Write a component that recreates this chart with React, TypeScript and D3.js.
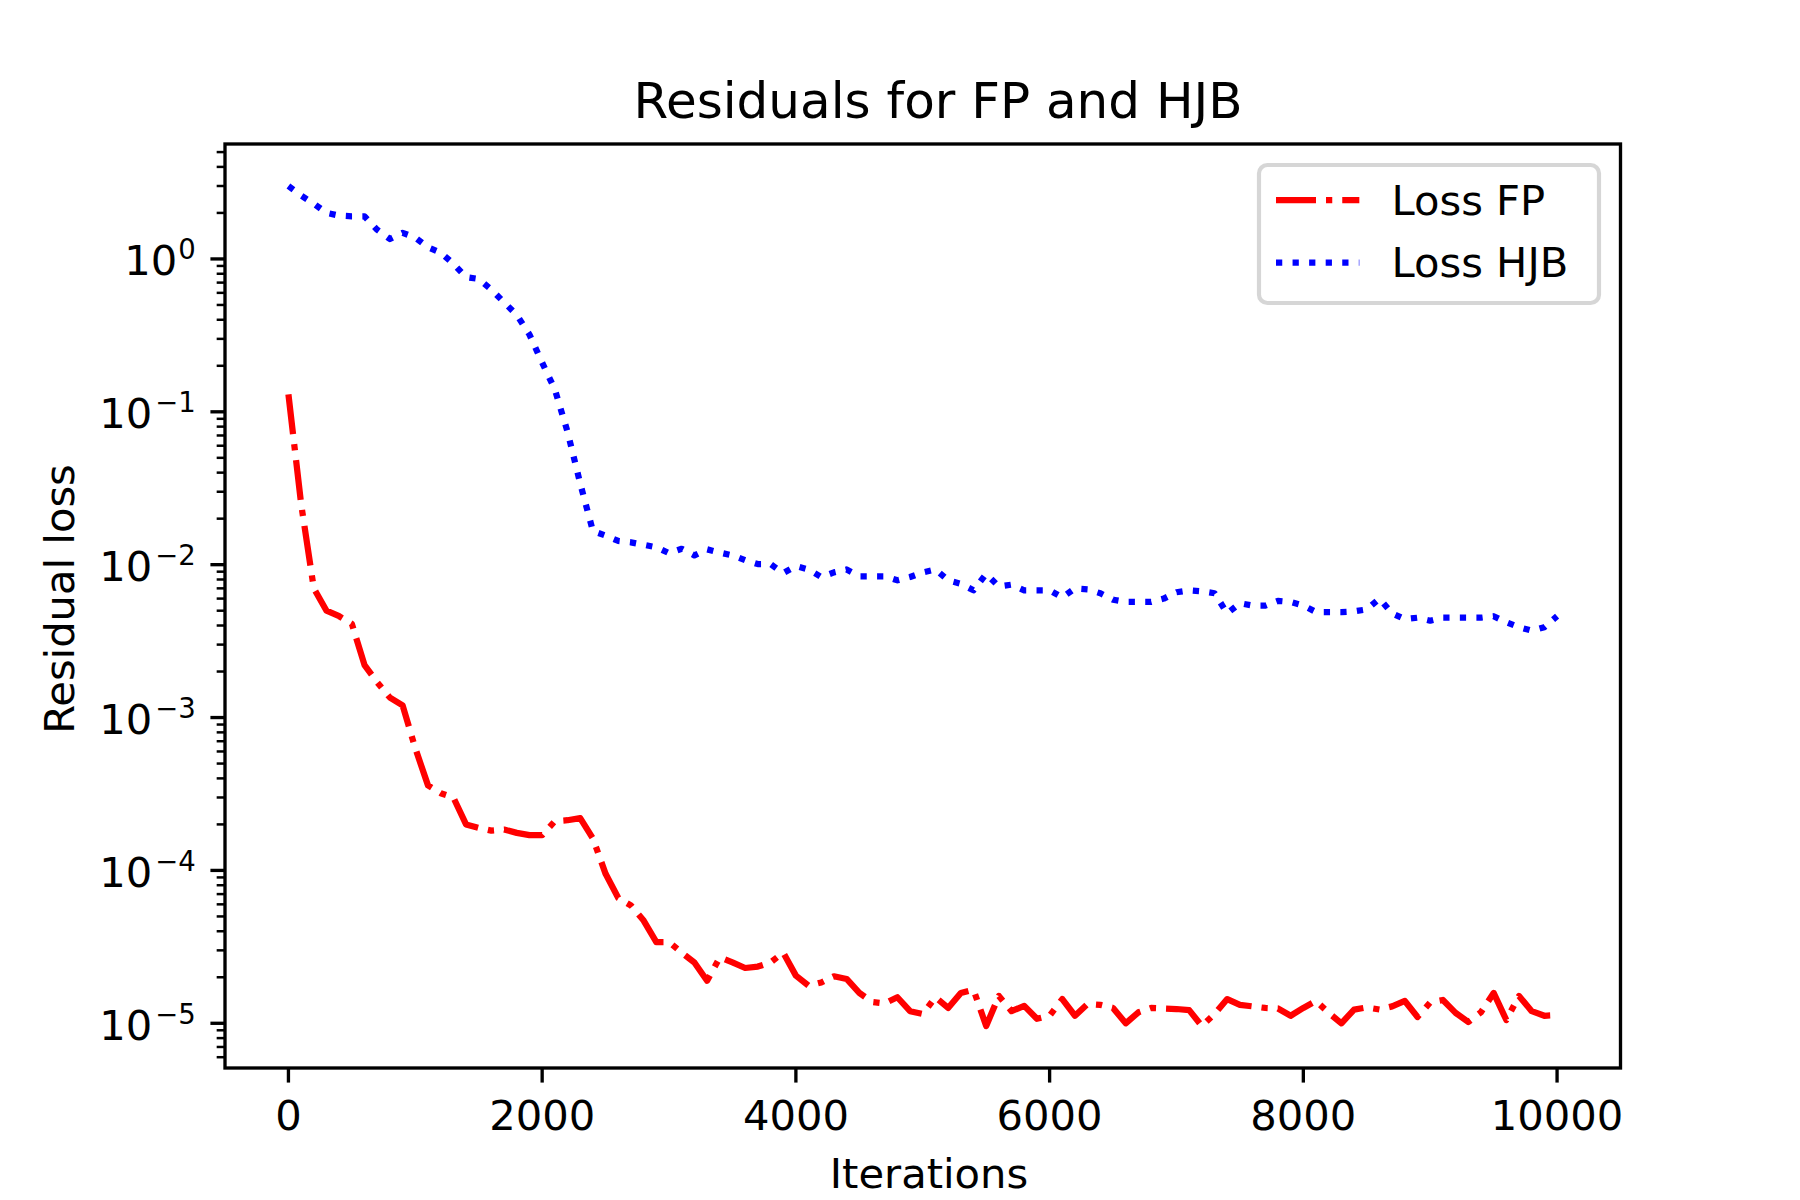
import React from "react";
import * as d3 from "d3";

const ITERATIONS = [
  0, 100, 200, 300, 400, 500, 600, 700, 800, 900,
  1000, 1100, 1200, 1300, 1400, 1500, 1600, 1700, 1800, 1900,
  2000, 2100, 2200, 2300, 2400, 2500, 2600, 2700, 2800, 2900,
  3000, 3100, 3200, 3300, 3400, 3500, 3600, 3700, 3800, 3900,
  4000, 4100, 4200, 4300, 4400, 4500, 4600, 4700, 4800, 4900,
  5000, 5100, 5200, 5300, 5400, 5500, 5600, 5700, 5800, 5900,
  6000, 6100, 6200, 6300, 6400, 6500, 6600, 6700, 6800, 6900,
  7000, 7100, 7200, 7300, 7400, 7500, 7600, 7700, 7800, 7900,
  8000, 8100, 8200, 8300, 8400, 8500, 8600, 8700, 8800, 8900,
  9000, 9100, 9200, 9300, 9400, 9500, 9600, 9700, 9800, 9900,
  10000,
];

const LOSS_FP = [
  0.13, 0.025, 0.007, 0.005, 0.0046, 0.0041, 0.0022, 0.0017, 0.00135, 0.0012,
  0.00063, 0.00036, 0.00032, 0.0003, 0.0002, 0.00019, 0.000182, 0.000185, 0.000176, 0.00017,
  0.00017, 0.00021, 0.000213, 0.00022, 0.000162, 9.5e-5, 6.6e-5, 5.9e-5, 4.7e-5, 3.4e-5,
  3.4e-5, 2.9e-5, 2.5e-5, 1.9e-5, 2.7e-5, 2.5e-5, 2.3e-5, 2.35e-5, 2.5e-5, 2.9e-5,
  2.05e-5, 1.76e-5, 1.85e-5, 2.03e-5, 1.95e-5, 1.58e-5, 1.38e-5, 1.35e-5, 1.48e-5, 1.2e-5,
  1.15e-5, 1.48e-5, 1.26e-5, 1.58e-5, 1.66e-5, 9.6e-6, 1.51e-5, 1.2e-5, 1.3e-5, 1.07e-5,
  1.12e-5, 1.44e-5, 1.12e-5, 1.34e-5, 1.32e-5, 1.26e-5, 1.0e-5, 1.18e-5, 1.26e-5, 1.25e-5,
  1.24e-5, 1.22e-5, 9.6e-6, 1.15e-5, 1.44e-5, 1.32e-5, 1.29e-5, 1.26e-5, 1.25e-5, 1.12e-5,
  1.26e-5, 1.4e-5, 1.17e-5, 1.0e-5, 1.23e-5, 1.27e-5, 1.23e-5, 1.29e-5, 1.4e-5, 1.1e-5,
  1.37e-5, 1.42e-5, 1.17e-5, 1.02e-5, 1.18e-5, 1.58e-5, 1.05e-5, 1.51e-5, 1.2e-5, 1.12e-5,
  1.13e-5,
];

const LOSS_HJB = [
  3.0, 2.6, 2.3, 2.0, 1.92, 1.9, 1.9, 1.55, 1.35, 1.48,
  1.38, 1.19, 1.1, 0.93, 0.76, 0.74, 0.63, 0.52, 0.43, 0.32,
  0.21, 0.14, 0.074, 0.034, 0.0166, 0.0155, 0.0143, 0.014, 0.0135, 0.013,
  0.0119, 0.0127, 0.0115, 0.0126, 0.012, 0.0115, 0.0107, 0.0101, 0.0101, 0.0088,
  0.0098, 0.0093, 0.0083, 0.0089, 0.0093, 0.0084, 0.0084, 0.0084, 0.0079, 0.0083,
  0.0089, 0.0093, 0.0079, 0.0075, 0.0068, 0.0087, 0.0072, 0.0074, 0.0068, 0.0068,
  0.0068, 0.0061, 0.007, 0.0069, 0.0065, 0.0059, 0.0057, 0.0057, 0.0057, 0.006,
  0.0066, 0.0068, 0.0067, 0.0065, 0.0048, 0.0056, 0.0054, 0.0054, 0.0058, 0.0057,
  0.0054, 0.0049, 0.0049, 0.0049, 0.00495, 0.0051, 0.006, 0.0048, 0.0044, 0.0045,
  0.0043, 0.0045, 0.0045, 0.0045, 0.0045, 0.0046, 0.0042, 0.0039, 0.0037, 0.0039,
  0.0046,
];

const X_TICKS = [0, 2000, 4000, 6000, 8000, 10000];
const Y_EXPONENTS = [0, -1, -2, -3, -4, -5];
const TITLE = "Residuals for FP and HJB";
const X_LABEL = "Iterations";
const Y_LABEL = "Residual loss";
const SERIES_NAMES = ["Loss FP", "Loss HJB"];

const W = 1800;
const H = 1200;
const AX = { left: 225, right: 1620.5, top: 144, bottom: 1068 };
const PT = 300 / 72;
const FONT = "DejaVu Sans";

export default function App() {
  const xMin = d3.min(ITERATIONS)!;
  const xMax = d3.max(ITERATIONS)!;
  const xPad = (xMax - xMin) * 0.05;
  const x = d3.scaleLinear().domain([xMin - xPad, xMax + xPad]).range([AX.left, AX.right]);

  const allVals = [...LOSS_FP, ...LOSS_HJB];
  const lmin = Math.log10(d3.min(allVals)!);
  const lmax = Math.log10(d3.max(allVals)!);
  const lpad = (lmax - lmin) * 0.05;
  const y = d3
    .scaleLog()
    .domain([Math.pow(10, lmin - lpad), Math.pow(10, lmax + lpad)])
    .range([AX.bottom, AX.top]);

  const line = d3
    .line<number>()
    .x((_, i) => x(ITERATIONS[i]))
    .y((d) => y(d));

  const [yLo, yHi] = y.domain();
  const minorTicks: number[] = [];
  for (let e = Math.floor(Math.log10(yLo)); e <= Math.ceil(Math.log10(yHi)); e++) {
    for (let m = 2; m <= 9; m++) {
      const v = m * Math.pow(10, e);
      if (v >= yLo && v <= yHi) minorTicks.push(v);
    }
  }

  const lw = 1.5 * PT;
  const dashDot = [6.4, 1.6, 1.0, 1.6].map((v) => v * 1.5 * PT).join(" ");
  const dotted = [1, 1.65].map((v) => v * 1.5 * PT).join(" ");
  const tickFs = 10 * PT;
  const majorLen = 3.5 * PT;
  const minorLen = 2 * PT;
  const majorW = 0.8 * PT;
  const minorW = 0.6 * PT;
  const labelRight = AX.left - majorLen - 3.5 * PT;

  const legX = 1259;
  const legY = 165;
  const legW = 340;
  const legH = 138;
  const rows = [
    { name: SERIES_NAMES[0], color: "#ff0000", dash: dashDot, ly: 200, ty: 215 },
    { name: SERIES_NAMES[1], color: "#0000ff", dash: dotted, ly: 262.7, ty: 277 },
  ];

  return (
    <div>
      <style>{"body{margin:0}"}</style>
      <svg width={W} height={H} style={{ display: "block", background: "#fff" }} fontFamily={FONT}>
        <rect x={0} y={0} width={W} height={H} fill="#fff" />
        <defs>
          <clipPath id="axclip">
            <rect x={AX.left} y={AX.top} width={AX.right - AX.left} height={AX.bottom - AX.top} />
          </clipPath>
        </defs>
        <g clipPath="url(#axclip)">
          <path
            d={line(LOSS_FP) || ""}
            fill="none"
            stroke="#ff0000"
            strokeWidth={lw}
            strokeDasharray={dashDot}
            strokeLinecap="butt"
            strokeLinejoin="round"
          />
          <path
            d={line(LOSS_HJB) || ""}
            fill="none"
            stroke="#0000ff"
            strokeWidth={lw}
            strokeDasharray={dotted}
            strokeLinecap="butt"
            strokeLinejoin="round"
          />
        </g>
        {/* spines */}
        <rect
          x={AX.left}
          y={AX.top}
          width={AX.right - AX.left}
          height={AX.bottom - AX.top}
          fill="none"
          stroke="#000"
          strokeWidth={majorW}
          strokeLinejoin="miter"
        />
        {/* x ticks */}
        {X_TICKS.map((t) => (
          <g key={"xt" + t}>
            <line x1={x(t)} x2={x(t)} y1={AX.bottom} y2={AX.bottom + majorLen} stroke="#000" strokeWidth={majorW} />
            <text x={x(t)} y={1130} fontSize={tickFs} textAnchor="middle" fill="#000">
              {String(t)}
            </text>
          </g>
        ))}
        {/* y minor ticks */}
        {minorTicks.map((v, i) => (
          <line
            key={"ym" + i}
            x1={AX.left - minorLen}
            x2={AX.left}
            y1={y(v)}
            y2={y(v)}
            stroke="#000"
            strokeWidth={minorW}
          />
        ))}
        {/* y major ticks */}
        {Y_EXPONENTS.map((e) => {
          const yy = y(Math.pow(10, e));
          const sup = e < 0 ? "\u2212" + String(-e) : String(e);
          return (
            <g key={"ye" + e}>
              <line x1={AX.left - majorLen} x2={AX.left} y1={yy} y2={yy} stroke="#000" strokeWidth={majorW} />
              <text x={labelRight} y={yy + 16.5} fontSize={tickFs} textAnchor="end" fill="#000">
                <tspan>10</tspan>
                <tspan dx={e < 0 ? 3 : 1} dy={-16} fontSize={27.5}>
                  {sup}
                </tspan>
              </text>
            </g>
          );
        })}
        {/* title and labels */}
        <text x={938} y={118} fontSize={12 * PT} textAnchor="middle" fill="#000">
          {TITLE}
        </text>
        <text x={929} y={1188} fontSize={tickFs} textAnchor="middle" fill="#000">
          {X_LABEL}
        </text>
        <text transform="translate(74,599) rotate(-90)" fontSize={tickFs} textAnchor="middle" fill="#000">
          {Y_LABEL}
        </text>
        {/* legend */}
        <rect
          x={legX}
          y={legY}
          width={legW}
          height={legH}
          rx={0.2 * tickFs}
          ry={0.2 * tickFs}
          fill="#fff"
          fillOpacity={0.8}
          stroke="#cccccc"
          strokeOpacity={0.8}
          strokeWidth={1 * PT}
        />
        {rows.map((r) => (
          <g key={r.name}>
            <line
              x1={1276}
              x2={1276 + 2 * tickFs}
              y1={r.ly}
              y2={r.ly}
              stroke={r.color}
              strokeWidth={lw}
              strokeDasharray={r.dash}
              strokeLinecap="butt"
            />
            <text x={1391.5} y={r.ty} fontSize={tickFs} fill="#000">
              {r.name}
            </text>
          </g>
        ))}
      </svg>
    </div>
  );
}
